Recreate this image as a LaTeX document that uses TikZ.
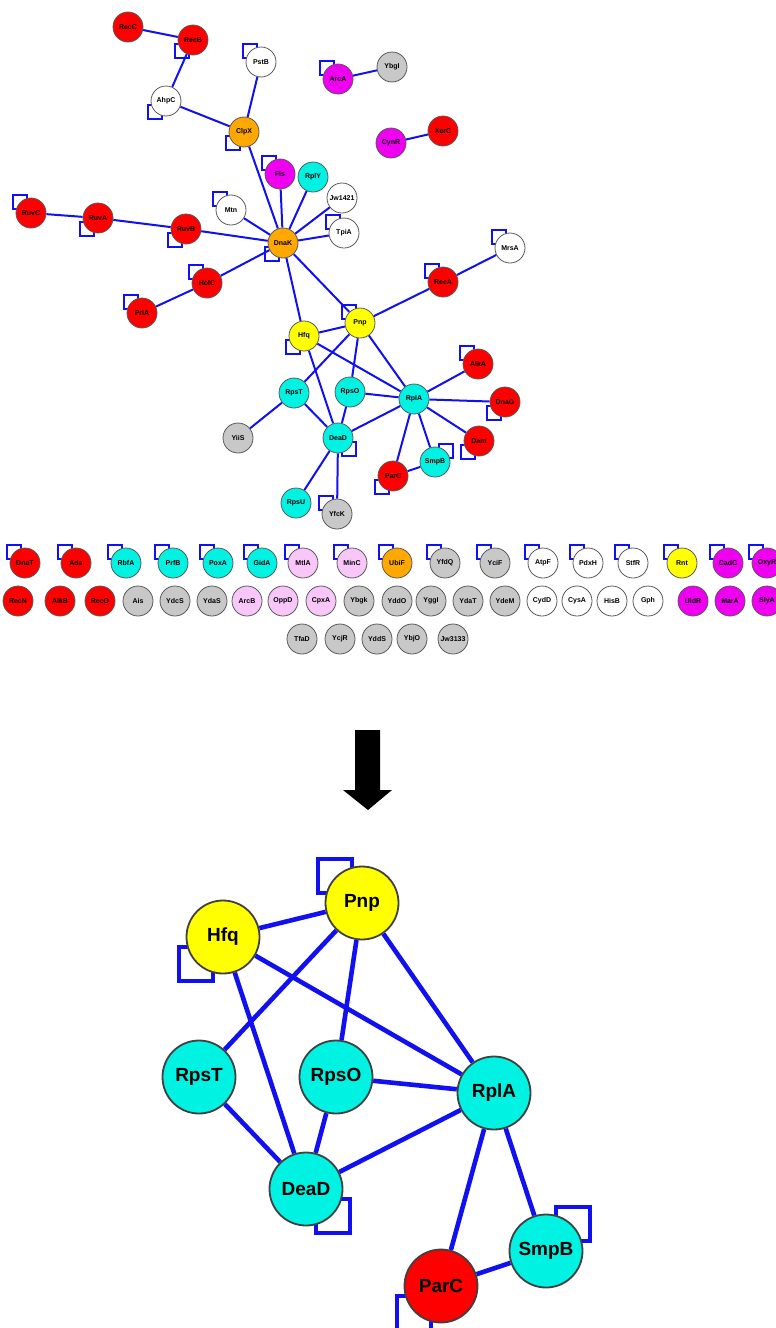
\documentclass[tikz,border=0pt]{standalone}
\usepackage{fontspec}
\setmainfont{Liberation Sans}
\usetikzlibrary{backgrounds}
\pgfdeclarelayer{bottomlayer}
\pgfsetlayers{bottomlayer,background,main}
\definecolor{cR}{HTML}{FF0000}
\definecolor{cO}{HTML}{FFA800}
\definecolor{cY}{HTML}{FFFF00}
\definecolor{cC}{HTML}{00F2E2}
\definecolor{cM}{HTML}{F000F0}
\definecolor{cG}{HTML}{C8C8C8}
\definecolor{cP}{HTML}{F8C6F8}
\definecolor{cW}{HTML}{FFFFFF}
\definecolor{eblue}{HTML}{1010F0}
\tikzset{
  gn/.style={circle,draw=black!65,line width=0.8pt,minimum size=30pt,inner sep=0pt,
    font=\fontsize{7}{7}\selectfont\bfseries},
  bn/.style={circle,draw=black!75,line width=1.8pt,minimum size=73pt,inner sep=0pt,
    font=\fontsize{19}{19}\selectfont\bfseries},
  te/.style={draw=eblue,line width=2pt},
  be/.style={draw=eblue,line width=4.6pt},
  tl/.style={draw=eblue,line width=1.8pt},
  bl/.style={draw=eblue,line width=4.2pt},
}
\newcommand\sqloop[5]{\draw[#5] ([shift={({#2*#4*0.27},{#3*#4*0.27})}]#1.center) rectangle ([shift={({#2*#4*1.2},{#3*#4*1.2})}]#1.center);}
\begin{document}
\begin{tikzpicture}[x=1pt,y=-1pt]
\useasboundingbox (0,0) rectangle (776,1328);
\begin{pgfonlayer}{bottomlayer}
  \fill[white] (0,0) rectangle (776,1328);
\end{pgfonlayer}
% ---------- top network ----------
\foreach \n/\x/\y/\c in {
  RecC/128/27/cR, RecB/193/40/cR, PstB/261/62/cW, AhpC/166/101/cW, ClpX/244/132/cO,
  ArcA/338/79/cM, YbgI/392/67/cG, CynR/391/143/cM, XerC/443/131/cR,
  Fis/280/174/cM, RplY/313/177/cC, Jw1421/342/198/cW, Mtn/231/210/cW, TpiA/344/233/cW,
  RuvC/31/213/cR, RuvA/98/218/cR, RuvB/186/229/cR, DnaK/283/243/cO, MrsA/510/248/cW,
  RecA/443/282/cR, HolC/207/283/cR, PriA/142/313/cR, Pnp/360/323/cY, Hfq/304/336/cY,
  AlkA/478/364/cR, RpsT/294/393/cC, RpsO/350/392/cC, RplA/414/399/cC, DnaG/505/402/cR,
  YiiS/238/438/cG, DeaD/338/438/cC, Dam/479/441/cR, SmpB/435/462/cC, ParC/393/476/cR,
  RpsU/296/503/cC, YfcK/337/514/cG}
  \node[gn,fill=\c] (t-\n) at (\x,\y) {\n};
% ---------- grid of unconnected nodes ----------
\foreach \n/\x/\c in {
  DnaT/25/cR, Ada/76/cR, RbfA/126/cC, PrfB/173/cC, PoxA/218/cC, GidA/262/cC,
  MtlA/303/cP, MinC/352/cP, UbiF/397/cO, YfdQ/445/cG, YciF/495/cG, AtpF/543/cW,
  PdxH/588/cW, StfR/633/cW, Rnt/682/cY, CadC/728/cM, OxyR/767/cM}
  \node[gn,fill=\c] (g-\n) at (\x,563) {\n};
\foreach \n/\x/\c in {
  RecN/18/cR, AlkB/60/cR, RecO/100/cR, Ais/138/cG, YdcS/175/cG, YdaS/212/cG,
  ArcB/247/cP, OppD/283/cP, CpxA/321/cP, Ybgk/359/cG, YddO/397/cG, YggI/431/cG,
  YdaT/468/cG, YdeM/505/cG, CydD/542/cW, CysA/577/cW, HisB/612/cW, Gph/648/cW,
  UidR/693/cM, MarA/730/cM, SlyA/767/cM}
  \node[gn,fill=\c] (g-\n) at (\x,601) {\n};
\foreach \n/\x in {TfaD/302, YcjR/340, YddS/377, YbjO/412, Jw3133/453}
  \node[gn,fill=cG] (g-\n) at (\x,639) {\n};
% ---------- bottom network ----------
\foreach \n/\x/\y/\c in {
  Pnp/362/903/cY, Hfq/223/937/cY, RpsT/199/1077/cC, RpsO/336/1077/cC,
  RplA/494/1093/cC, DeaD/306/1189/cC, SmpB/546/1251/cC, ParC/441/1286/cR}
  \node[bn,fill=\c] (b-\n) at (\x,\y) {\n};
% ---------- arrow ----------
\fill[black] (355,730) -- (380,730) -- (380,790) -- (392,790) -- (368,810)
  -- (343,790) -- (355,790) -- cycle;
\begin{scope}[on background layer]
  \foreach \a/\b in {RecC/RecB, RecB/AhpC, AhpC/ClpX, PstB/ClpX, ClpX/DnaK,
    ArcA/YbgI, CynR/XerC, Fis/DnaK, RplY/DnaK, Jw1421/DnaK, Mtn/DnaK, TpiA/DnaK,
    RuvC/RuvA, RuvA/RuvB, RuvB/DnaK, DnaK/HolC, HolC/PriA, DnaK/Hfq, DnaK/Pnp,
    MrsA/RecA, RecA/Pnp, Hfq/Pnp, Hfq/RplA, Hfq/DeaD, Pnp/RpsT, Pnp/RpsO, Pnp/RplA,
    RpsO/RplA, RpsO/DeaD, RpsT/DeaD, RpsT/YiiS, DeaD/RplA, DeaD/RpsU, DeaD/YfcK,
    RplA/AlkA, RplA/DnaG, RplA/Dam, RplA/SmpB, RplA/ParC, SmpB/ParC}
    \draw[te] (t-\a) -- (t-\b);
  \foreach \n/\dx/\dy in {RecB/-1/1, PstB/-1/-1, AhpC/-1/1, ClpX/-1/1, ArcA/-1/-1,
    Fis/-1/-1, Mtn/-1/-1, TpiA/-1/-1, RuvC/-1/-1, RuvA/-1/1, RuvB/-1/1, DnaK/-1/1,
    MrsA/-1/-1, RecA/-1/-1, HolC/-1/-1, PriA/-1/-1, Pnp/-1/-1, Hfq/-1/1, AlkA/-1/-1,
    DnaG/-1/1, Dam/-1/1, DeaD/1/1, SmpB/1/-1, ParC/-1/1, YfcK/-1/-1}
    \sqloop{t-\n}{\dx}{\dy}{15}{tl};
  \foreach \n in {DnaT, Ada, RbfA, PrfB, PoxA, GidA, MtlA, MinC, UbiF, YfdQ, YciF,
    AtpF, PdxH, StfR, Rnt, CadC, OxyR}
    \sqloop{g-\n}{-1}{-1}{15}{tl};
  \foreach \a/\b in {Hfq/Pnp, Pnp/RpsT, Pnp/RpsO, Pnp/RplA, Hfq/RplA, Hfq/DeaD,
    RpsT/DeaD, RpsO/DeaD, RpsO/RplA, DeaD/RplA, RplA/ParC, RplA/SmpB, SmpB/ParC}
    \draw[be] (b-\a) -- (b-\b);
  \foreach \n/\dx/\dy in {Pnp/-1/-1, Hfq/-1/1, DeaD/1/1, SmpB/1/-1, ParC/-1/1}
    \sqloop{b-\n}{\dx}{\dy}{36.5}{bl};
\end{scope}
\end{tikzpicture}
\end{document}
